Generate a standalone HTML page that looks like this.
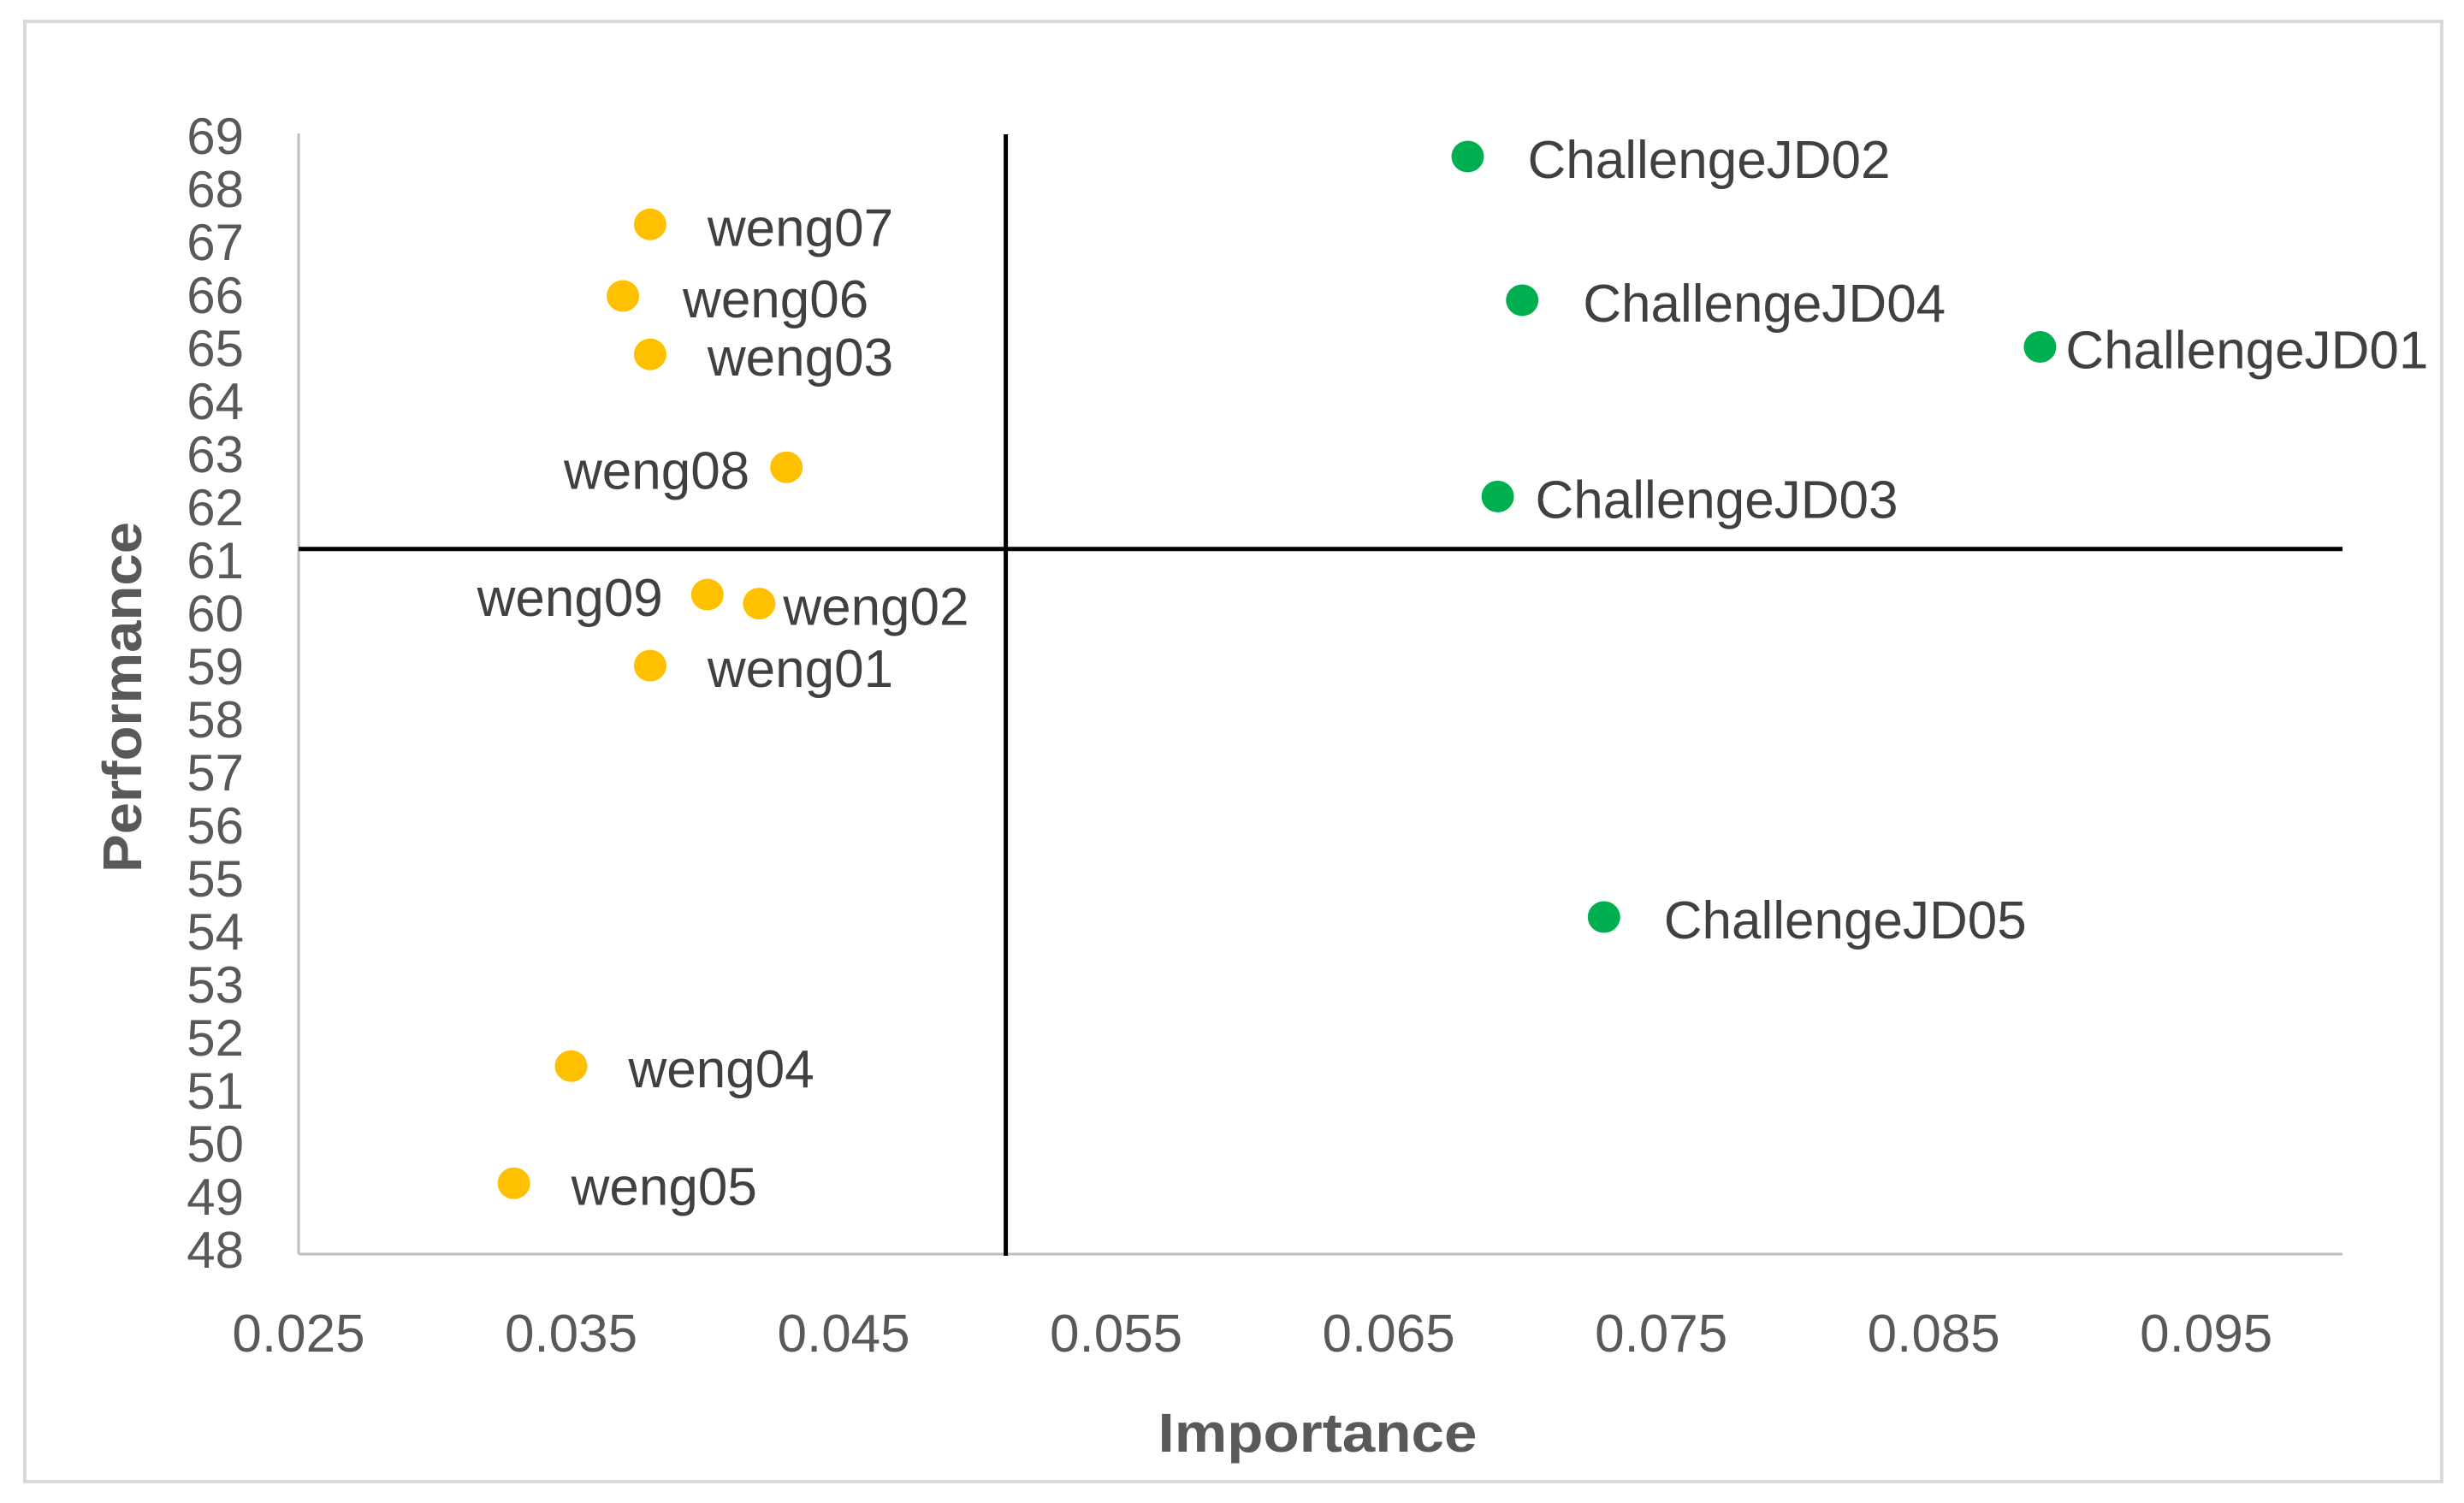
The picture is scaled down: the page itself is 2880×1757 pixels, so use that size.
<!DOCTYPE html>
<html><head><meta charset="utf-8"><style>
html,body{margin:0;padding:0;background:#fff;}
svg{display:block;font-family:"Liberation Sans",sans-serif;}
</style></head><body>
<svg id="chart" width="2880" height="1757" viewBox="0 0 2880 1757">
<rect x="29" y="25" width="2825" height="1707" fill="#fff" stroke="#d9d9d9" stroke-width="4"/>
<g id="axes"></g><g id="marks"></g>
</svg>
<script>
const xTicks = [0.025, 0.035, 0.045, 0.055, 0.065, 0.075, 0.085, 0.095];
const xTickLabels = ["0.025","0.035","0.045","0.055","0.065","0.075","0.085","0.095"];
const yTicks = [48,49,50,51,52,53,54,55,56,57,58,59,60,61,62,63,64,65,66,67,68,69];
const wengNames = ["weng07","weng06","weng03","weng08","weng09","weng02","weng01","weng04","weng05"];
const wengImportance = [0.0379,0.0369,0.0379,0.0429,0.0400,0.0419,0.0379,0.0350,0.0329];
const wengPerformance = [67.35,66.0,64.9,62.77,60.37,60.2,59.03,51.48,49.27];
const jdNames = ["ChallengeJD02","ChallengeJD04","ChallengeJD01","ChallengeJD03","ChallengeJD05"];
const jdImportance = [0.0679,0.0699,0.0889,0.0690,0.0729];
const jdPerformance = [68.63,65.92,65.04,62.22,54.29];
const meanImportance = 0.05095;
const meanPerformance = 61.23;

const NS="http://www.w3.org/2000/svg";
const X0=349, X1=2738, xmin=0.025, xmax=0.1;
const Y0=1462, Y1=160, ymin=48, ymax=69;
const sx=v=>X0+(v-xmin)/(xmax-xmin)*(X1-X0);
const sy=v=>Y0-(v-ymin)/(ymax-ymin)*(Y0-Y1);
function mk(tag,attrs,parent,text){const e=document.createElementNS(NS,tag);for(const k in attrs)e.setAttribute(k,attrs[k]);if(text!==undefined)e.textContent=text;parent.appendChild(e);return e;}
const axes=document.getElementById('axes'), marks=document.getElementById('marks');

let e=mk('line',{x1:X0,y1:Y1-4,x2:X0,y2:1466,stroke:'#bfbfbf','stroke-width':3},axes);


e=mk('line',{x1:X0,y1:1466,x2:X1,y2:1466,stroke:'#bfbfbf','stroke-width':3},axes);



yTicks.forEach(v=>{
  const t=mk('text',{x:285,y:sy(v)+20,'text-anchor':'end','font-size':60,fill:'#595959'},axes,String(v));
  
  
});
xTicks.forEach((v,i)=>{
  const t=mk('text',{x:sx(v),y:1580,'text-anchor':'middle','font-size':62,fill:'#595959'},axes,xTickLabels[i]);
  
  
});
e=mk('text',{x:1540,y:1697,'text-anchor':'middle','font-size':64,'font-weight':'bold',fill:'#595959',textLength:373,lengthAdjust:'spacingAndGlyphs'},axes,'Importance');


e=mk('text',{x:0,y:0,'text-anchor':'middle','font-size':64,'font-weight':'bold',fill:'#595959',textLength:410,lengthAdjust:'spacingAndGlyphs',transform:'translate(165,815) rotate(-90)'},axes,'Performance');



e=mk('line',{x1:sx(meanImportance),y1:157,x2:sx(meanImportance),y2:1468,stroke:'#000','stroke-width':5},marks);


e=mk('line',{x1:X0,y1:sy(meanPerformance),x2:X1,y2:sy(meanPerformance),stroke:'#000','stroke-width':5},marks);



const wengDx=[67,70,67,-43,-52,28,67,67,67];
const jdDx=[70,71,30,44,70];
function drawPts(names,xs,ys,dxs,color,nm){
  names.forEach((n,i)=>{
    const cx=sx(xs[i]), cy=sy(ys[i]);
    const c=mk('ellipse',{cx:cx,cy:cy,rx:19,ry:18.5,fill:color},marks);
    
    
    const dx=dxs[i];
    const t=mk('text',{x:cx+dx,y:cy+25,'text-anchor':dx<0?'end':'start','font-size':62,fill:'#404040'},marks,n);
    
    
  });
}
drawPts(wengNames,wengImportance,wengPerformance,wengDx,'#FFC000','weng');
drawPts(jdNames,jdImportance,jdPerformance,jdDx,'#00B050','challenge');
</script>
</body></html>
